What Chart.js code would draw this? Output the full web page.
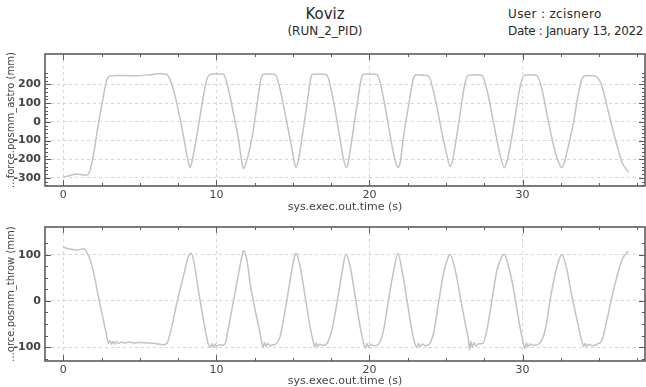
<!DOCTYPE html>
<html>
<head>
<meta charset="utf-8">
<script src="https://cdn.jsdelivr.net/npm/chart.js@4/dist/chart.umd.min.js"></script>
<style>
  html, body { margin: 0; padding: 0; background: #fff; }
  #page { position: relative; width: 646px; height: 387px; overflow: hidden;
          font-family: "DejaVu Sans", sans-serif; color: #2a2a2a; }
  .txt { position: absolute; white-space: nowrap; line-height: 1; }
  canvas { position: absolute; left: 0; }
</style>
</head>
<body>
<div id="page">
  <div class="txt" style="left:225px;width:200px;top:7px;text-align:center;font-size:15px;">Koviz</div>
  <div class="txt" style="left:225px;width:200px;top:25px;text-align:center;font-size:12px;">(RUN_2_PID)</div>
  <div class="txt" style="left:508px;top:8px;font-size:12px;letter-spacing:0.35px;">User : zcisnero</div>
  <div class="txt" style="left:508px;top:25px;font-size:12px;letter-spacing:-0.35px;">Date : January 13, 2022</div>
  <canvas id="astro" width="646" height="215" style="top:0px"></canvas>
  <canvas id="throw" width="646" height="175" style="top:215px"></canvas>
</div>
<script>
// Logged run data: simulation time (s) and position (mm)
const astroTime = [
  0, 0.5, 0.9, 1.2, 1.5, 1.7, 1.96, 2.3, 2.62, 2.84, 3.05, 3.5, 4.5, 5.5, 6.1, 6.5, 6.76,
  6.97, 7.3, 7.63, 7.96, 8.17, 8.28, 8.39, 8.72, 9.04, 9.37, 9.6, 10.0, 10.45,
  10.68, 11.1, 11.44, 11.66, 11.76, 11.9, 12.31, 12.64, 12.9, 13.07, 13.5, 13.84,
  14.16, 14.6, 14.93, 15.14, 15.2, 15.3, 15.58, 15.9, 16.19, 16.3, 16.8, 17.2,
  17.54, 17.97, 18.3, 18.48, 18.6, 18.85, 19.18, 19.5, 19.6, 20.1, 20.5,
  20.8, 21.24, 21.6, 21.86, 22.0, 22.2, 22.55, 22.88, 23.05, 23.5, 23.86,
  24.3, 24.73, 25.06, 25.27, 25.4, 25.6, 25.93, 26.25, 26.47, 27.0, 27.35,
  27.67, 28.1, 28.54, 28.82, 28.95, 29.2, 29.52, 29.85, 30.11, 30.5, 30.94,
  31.27, 31.7, 32.14, 32.58, 32.7, 32.9, 33.33, 33.66, 33.92, 34.2, 34.6, 34.86,
  35.19, 35.62, 36.06, 36.5, 36.93
];
const astroPos = [
  -295, -285, -279, -283, -285, -270, -180, -3, 138, 226, 246, 248, 247, 250, 257, 258, 254,
  226, 138, 14, -127, -216, -245, -216, -74, 85, 226, 254, 257, 256,
  209, 50, -92, -216, -250, -228, -92, 85, 226, 255, 256, 253,
  173, -3, -145, -233, -244, -225, -92, 85, 244, 255, 256, 252,
  156, -39, -198, -243, -220, -92, 85, 244, 255, 256, 252,
  173, -21, -180, -243, -220, -92, 85, 235, 252, 250, 245,
  120, -56, -180, -240, -215, -127, 50, 209, 250, 252, 248,
  173, -3, -180, -245, -220, -127, 32, 191, 250, 252, 248,
  173, -3, -163, -245, -225, -163, -3, 156, 236, 248, 247, 240,
  191, 50, -92, -216, -270
];

const throwTime = [
  0, 0.5, 1.0, 1.3, 1.45, 1.75, 2.03, 2.29, 2.61, 2.84, 2.94, 3.05, 3.15, 3.25, 3.35,
  3.45, 3.6, 3.8, 4.0, 4.3, 4.6, 5.0, 5.5, 6.0, 6.5, 6.76, 7.08, 7.41, 7.84, 8.17,
  8.33, 8.5, 8.82, 9.15, 9.48, 9.6, 9.7, 9.8, 9.9, 10.0, 10.2, 10.4, 10.6,
  10.68, 11.0, 11.33, 11.66, 11.76, 11.99, 12.2, 12.53, 12.81, 12.97, 13.05, 13.15,
  13.25, 13.35, 13.5, 13.7, 13.9, 14.16, 14.49, 14.82, 15.1, 15.2, 15.47, 15.8,
  16.12, 16.34, 16.42, 16.52, 16.62, 16.75, 16.95, 17.2, 17.54, 17.87, 18.2, 18.46,
  18.74, 19.07, 19.39, 19.65, 19.75, 19.85, 19.95, 20.1, 20.3, 20.6, 20.92, 21.24,
  21.59, 21.86, 22.12, 22.45, 22.77, 22.99, 23.1, 23.2, 23.3, 23.45, 23.65, 23.9,
  24.18, 24.51, 24.84, 25.16, 25.27, 25.6, 25.93, 26.25, 26.47, 26.54, 26.62, 26.72,
  26.82, 26.95, 27.1, 27.4, 27.67, 28.0, 28.33, 28.65, 28.8, 29.09, 29.42, 29.75,
  30.07, 30.15, 30.25, 30.35, 30.5, 30.7, 31.1, 31.48, 31.8, 32.14, 32.46, 32.57,
  32.9, 33.23, 33.56, 33.88, 33.99, 34.1, 34.2, 34.35, 34.6, 34.9, 35.19, 35.51,
  35.84, 36.17, 36.5, 36.82, 36.93
];
const throwPos = [
  116, 112, 110, 113, 110, 89, 53, 9, -41, -77, -92, -86, -94, -87, -93,
  -88, -92, -89, -91, -89, -91, -90, -91, -92, -95, -92, -56, -5, 53, 96,
  103, 89, 24, -41, -95, -100, -92, -101, -93, -98, -95, -96, -90,
  -77, -20, 38, 96, 109, 89, 38, -20, -63, -90, -100, -90,
  -99, -92, -97, -95, -93, -77, -20, 45, 96, 103, 74, 9,
  -56, -90, -100, -91, -99, -93, -96, -93, -63, -5, 60, 101,
  74, 9, -56, -95, -102, -92, -100, -94, -97, -93, -63, 2,
  67, 103, 67, 2, -63, -95, -101, -92, -99, -93, -97, -94,
  -70, -5, 60, 96, 100, 67, 9, -48, -85, -106, -88, -100,
  -90, -98, -93, -92, -63, 2, 67, 96, 101, 74, 24, -41,
  -95, -103, -91, -99, -93, -96, -92, -63, 2, 60, 96, 100,
  67, 9, -41, -88, -99, -92, -98, -94, -97, -93, -85, -41,
  9, 53, 89, 105, 107
];

// Labelled ticks
const timeTicks = [0, 10, 20, 30];
const astroTicks = [-300, -200, -100, 0, 100, 200];
const throwTicks = [-100, 0, 100];

const timeTitle = 'sys.exec.out.time (s)';
const astroTitle = '...force.posmm_astro (mm)';
const throwTitle = '...orce.posmm_throw (mm)';

const INK = '#444444';
const FONT = 'DejaVu Sans';

// Frame around the plot area with inward major/minor tick marks on all four sides
const frameTicks = {
  id: 'frameTicks',
  afterDatasetsDraw(chart, args, o) {
    const { ctx, chartArea: a, scales: { x, y } } = chart;
    ctx.save();
    ctx.strokeStyle = '#5c5c5c';
    ctx.lineWidth = 1;
    ctx.beginPath();
    const nx = Math.round((o.xTo - o.xFrom) / o.xStep);
    for (let i = 0; i <= nx; i++) {
      const v = o.xFrom + i * o.xStep;
      const px = Math.round(x.getPixelForValue(v)) + 0.5;
      const major = Math.abs(v / o.xMajor - Math.round(v / o.xMajor)) < 1e-6;
      const len = major ? 6 : 3;
      ctx.moveTo(px, a.top); ctx.lineTo(px, a.top + len);
      ctx.moveTo(px, a.bottom); ctx.lineTo(px, a.bottom - len);
    }
    const ny = Math.round((o.yTo - o.yFrom) / o.yStep);
    for (let i = 0; i <= ny; i++) {
      const v = o.yFrom + i * o.yStep;
      const py = Math.round(y.getPixelForValue(v)) + 0.5;
      const major = Math.abs(v / o.yMajor - Math.round(v / o.yMajor)) < 1e-6;
      const len = major ? 6 : 3;
      ctx.moveTo(a.left, py); ctx.lineTo(a.left + len, py);
      ctx.moveTo(a.right, py); ctx.lineTo(a.right - len, py);
    }
    ctx.stroke();
    ctx.lineWidth = 1.6;
    ctx.strokeRect(a.left, a.top, a.right - a.left, a.bottom - a.top);
    ctx.restore();
  }
};

function buildChart(id, xs, ys, yMin, yMax, yTicks, yTitle, pad, xHeight, titleGap, marks) {
  return new Chart(document.getElementById(id), {
    type: 'line',
    data: {
      datasets: [{
        data: xs.map((t, i) => ({ x: t, y: ys[i] })),
        borderColor: '#c3c3c3',
        borderWidth: 1.5,
        pointRadius: 0,
        cubicInterpolationMode: 'monotone',
        fill: false
      }]
    },
    options: {
      responsive: false,
      animation: false,
      devicePixelRatio: 1,
      layout: { padding: { top: pad, right: 1, left: 0, bottom: 0 } },
      plugins: {
        legend: { display: false },
        tooltip: { enabled: false },
        frameTicks: marks
      },
      scales: {
        x: {
          type: 'linear',
          min: -1.2,
          max: 38,
          afterBuildTicks: s => { s.ticks = timeTicks.map(v => ({ value: v })); },
          afterFit: s => { s.height = xHeight; },
          grid: { color: '#d6d6d6', lineWidth: 1, drawTicks: false },
          border: { display: false, dash: [3, 3] },
          ticks: { color: INK, font: { family: FONT, size: 11 }, padding: 3, maxRotation: 0, autoSkip: false },
          title: { display: true, text: timeTitle, color: INK, font: { family: FONT, size: 11 }, padding: { top: 0, bottom: titleGap } }
        },
        y: {
          type: 'linear',
          min: yMin,
          max: yMax,
          afterBuildTicks: s => { s.ticks = yTicks.map(v => ({ value: v })); },
          afterFit: s => { s.width = 45; },
          grid: { color: '#d6d6d6', lineWidth: 1, drawTicks: false },
          border: { display: false, dash: [3, 3] },
          ticks: { color: INK, font: { family: FONT, size: 11, weight: 'bold' }, padding: 4, autoSkip: false },
          title: { display: true, text: yTitle, color: INK, font: { family: FONT, size: 10 }, padding: { top: 5, bottom: 0 } }
        }
      }
    },
    plugins: [frameTicks]
  });
}

buildChart('astro', astroTime, astroPos, -343, 363, astroTicks, astroTitle, 54, 29, 1,
  { xFrom: 0, xTo: 37.5, xStep: 2.5, xMajor: 10, yFrom: -340, yTo: 260, yStep: 20, yMajor: 100 });
buildChart('throw', throwTime, throwPos, -130, 160, throwTicks, throwTitle, 12, 29, 2.5,
  { xFrom: 0, xTo: 37.5, xStep: 2.5, xMajor: 10, yFrom: -125, yTo: 125, yStep: 25, yMajor: 100 });
</script>
</body>
</html>
